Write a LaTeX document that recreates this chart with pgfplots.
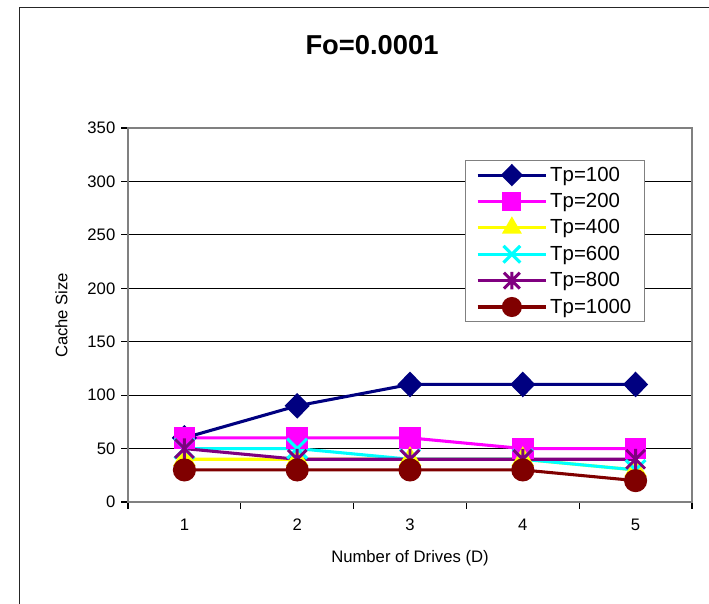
\documentclass[border=0pt]{standalone}
\usepackage{pgfplots}
\pgfplotsset{compat=1.18}
\usepackage{fontspec}
\setmainfont{Liberation Sans}
\definecolor{cnavy}{RGB}{0,0,128}
\definecolor{cmag}{RGB}{255,0,255}
\definecolor{cyel}{RGB}{255,255,0}
\definecolor{ccyan}{RGB}{0,255,255}
\definecolor{cpurp}{RGB}{128,0,128}
\definecolor{cmar}{RGB}{128,0,0}
\pgfdeclareplotmark{xstar}{%
  \pgfpathmoveto{\pgfqpoint{-\pgfplotmarksize}{-\pgfplotmarksize}}%
  \pgfpathlineto{\pgfqpoint{\pgfplotmarksize}{\pgfplotmarksize}}%
  \pgfpathmoveto{\pgfqpoint{-\pgfplotmarksize}{\pgfplotmarksize}}%
  \pgfpathlineto{\pgfqpoint{\pgfplotmarksize}{-\pgfplotmarksize}}%
  \pgfpathmoveto{\pgfqpoint{0pt}{-1.1\pgfplotmarksize}}%
  \pgfpathlineto{\pgfqpoint{0pt}{1.1\pgfplotmarksize}}%
  \pgfusepathqstroke}
\begin{document}
\begin{tikzpicture}
\clip (-96pt,-75.75pt) rectangle (435.75pt,376.5pt);
\fill[white] (-96pt,-75.75pt) rectangle (435.75pt,376.5pt);
\draw[line width=1.2pt, black!85] (-81.4pt,-100pt) -- (-81.4pt,370.9pt) -- (460pt,370.9pt);
\begin{axis}[
  at={(0,0)}, anchor=south west,
  scale only axis, width=423pt, height=280.5pt,
  xmin=0.5, xmax=5.5, ymin=0, ymax=350,
  xtick={1,2,3,4,5},
  minor xtick={0.5,1.5,2.5,3.5,4.5,5.5},
  ytick={0,50,...,350},
  xtick pos=bottom, ytick pos=left,
  tick align=outside,
  major x tick style={draw=none},
  minor x tick style={black, line width=0.8pt},
  minor tick length=5pt,
  major tick length=5pt,
  y tick style={black, line width=0.8pt},
  ymajorgrids,
  major grid style={black, line width=0.75pt},
  axis line style={gray, line width=1.6pt},
  tick label style={font=\fontsize{12.5}{14}\selectfont},
  /pgf/number format/assume math mode=true,
  xticklabel style={yshift=-4pt},
  yticklabel style={xshift=-1pt},
  legend style={at={(0.5975,0.915)}, anchor=north west, draw=gray, line width=0.8pt,
    font=\fontsize{15.3}{17}\selectfont, row sep=3.6pt, inner xsep=8pt, inner ysep=3pt,
    cells={anchor=west}},
  legend image code/.code={%
    \draw[mark repeat=2, mark phase=2, line width=2.3pt, every mark/.append style={scale=0.85}]
      plot coordinates {(0cm,0cm) (0.9cm,0cm) (1.8cm,0cm)};},
  every axis plot/.append style={line width=2.3pt},
  clip=false,
]
\addplot[cnavy, mark=diamond*, mark size=8pt, mark options={solid, xscale=1.3}]
  coordinates {(1,60) (2,90) (3,110) (4,110) (5,110)};
\addlegendentry{Tp=100}
\addplot[cmag, mark=square*, mark size=7pt, mark options={solid}]
  coordinates {(1,60) (2,60) (3,60) (4,50) (5,50)};
\addlegendentry{Tp=200}
\addplot[cyel, mark=triangle*, mark size=7.5pt, mark options={solid}]
  coordinates {(1,40) (2,40) (3,40) (4,40) (5,30)};
\addlegendentry{Tp=400}
\addplot[ccyan, mark=x, mark size=10.5pt, mark options={solid, line width=2.3pt}]
  coordinates {(1,50) (2,50) (3,40) (4,40) (5,30)};
\addlegendentry{Tp=600}
\addplot[cpurp, mark=xstar, mark size=7pt, mark options={solid, line width=2.2pt}]
  coordinates {(1,50) (2,40) (3,40) (4,40) (5,40)};
\addlegendentry{Tp=800}
\addplot[cmar, mark=*, mark size=7.5pt, mark options={solid}]
  coordinates {(1,30) (2,30) (3,30) (4,30) (5,20)};
\addlegendentry{Tp=1000}
\end{axis}
\node[font=\bfseries\fontsize{20.5}{24}\selectfont] at (183pt,342.75pt) {Fo=0.0001};
\node[rotate=90, font=\fontsize{12.5}{14}\selectfont] at (-50pt,140pt) {Cache Size};
\node[font=\fontsize{12.5}{14}\selectfont] at (211.5pt,-42pt) {Number of Drives (D)};
\end{tikzpicture}
\end{document}
